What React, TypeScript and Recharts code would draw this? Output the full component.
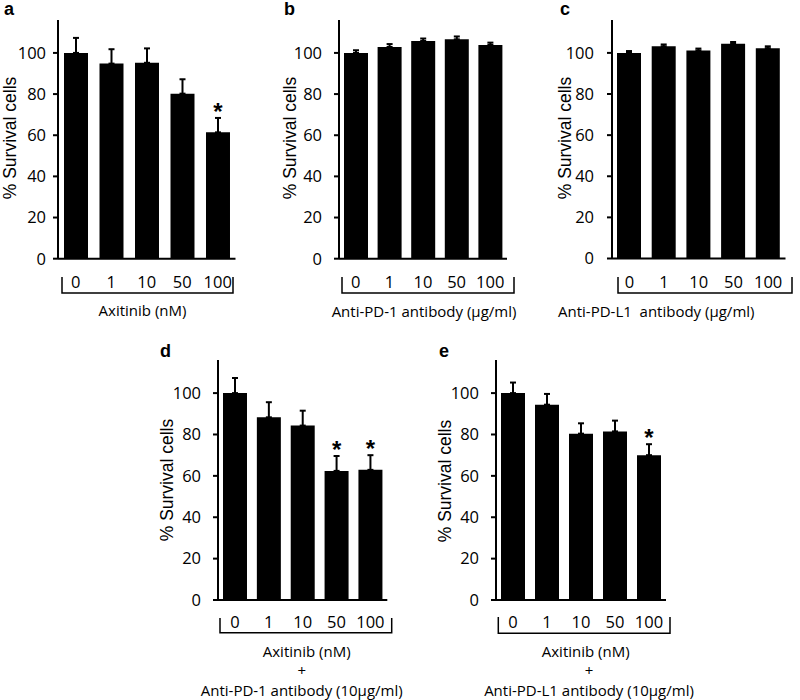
import React from "react";
import { BarChart, Bar, XAxis, YAxis, ErrorBar } from "recharts";

// categories and ticks
const doses = ["0", "1", "10", "50", "100"];
const yTicks = [0, 20, 40, 60, 80, 100];

// a: axitinib alone
const axitinibMean = [100, 94.8, 95.2, 80.2, 61.4];
const axitinibErr = [7.3, 7, 7, 7, 7];
const axitinibSig = [false, false, false, false, true];

// b: anti-PD-1 alone
const pd1Mean = [100, 102.9, 105.8, 106.6, 103.9];
const pd1Err = [1.3, 1.4, 1.2, 1.4, 1.1];
const pd1Sig = [false, false, false, false, false];

// c: anti-PD-L1 alone
const pdl1Mean = [100, 103.2, 101.2, 104.4, 102.3];
const pdl1Err = [0.9, 0.9, 0.9, 0.9, 0.9];
const pdl1Sig = [false, false, false, false, false];

// d: axitinib + anti-PD-1
const comboPd1Mean = [100, 88.3, 84.3, 62.4, 62.9];
const comboPd1Err = [7.3, 7.3, 7.2, 7.2, 7.1];
const comboPd1Sig = [false, false, false, true, true];

// e: axitinib + anti-PD-L1
const comboPdl1Mean = [100, 94.4, 80.4, 81.5, 70];
const comboPdl1Err = [5.1, 5.2, 5.0, 5.2, 5.3];
const comboPdl1Sig = [false, false, false, false, true];

const makeRows = (mean: number[], err: number[], sig: boolean[]) =>
  doses.map((d, i) => ({ dose: d, mean: mean[i], err: [0, err[i]], sig: sig[i] }));

const tickFont = { fill: "#000", fontSize: 16.5, fontFamily: "Open Sans" };
const axisStroke = { stroke: "#000", strokeWidth: 2 };

interface PanelProps {
  rows: any[];
  axisX: number;
  plotTop: number;
  plotW: number;
  plotH: number;
  yGap: number;
  xGap: number;
}

const Panel: React.FC<PanelProps> = ({ rows, axisX, plotTop, plotW, plotH, yGap, xGap }) => {
  const yW = 60;
  const mTop = 4;
  const mRight = 4;
  const xH = 44;

  const renderStar = (p: any) => {
    const row = rows[p.index];
    if (!row || !row.sig) return null;
    const scale = p.height / row.mean;
    const errTop = p.y - row.err[1] * scale;
    return (
      <text
        x={p.x + p.width / 2}
        y={errTop + 2}
        textAnchor="middle"
        fontSize={24}
        fontWeight="bold"
        fontFamily="Liberation Sans"
        fill="#000"
      >
        *
      </text>
    );
  };

  return (
    <div style={{ position: "absolute", left: axisX - yW, top: plotTop - mTop }}>
      <BarChart
        width={yW + plotW + mRight}
        height={mTop + plotH + xH}
        data={rows}
        margin={{ top: mTop, right: mRight, left: 0, bottom: 0 }}
        barSize={24}
      >
        <XAxis
          dataKey="dose"
          height={xH}
          interval={0}
          tickLine={false}
          tickSize={0}
          tickMargin={xGap}
          axisLine={axisStroke}
          tick={tickFont}
        />
        <YAxis
          type="number"
          width={yW}
          domain={[0, 116]}
          ticks={yTicks}
          tickSize={5}
          tickMargin={yGap}
          axisLine={axisStroke}
          tickLine={axisStroke}
          tick={tickFont}
        />
        <Bar dataKey="mean" fill="#000" isAnimationActive={false} label={renderStar}>
          <ErrorBar
            dataKey="err"
            direction="y"
            width={3}
            stroke="#000"
            strokeWidth={2}
            isAnimationActive={false}
          />
        </Bar>
      </BarChart>
    </div>
  );
};

const yLabel = (x: number, y: number) => (
  <text
    x={x}
    y={y}
    transform={`rotate(-90 ${x} ${y})`}
    textAnchor="middle"
    dominantBaseline="central"
    fontSize={17.5}
    fontFamily="Liberation Sans"
    fill="#000"
  >
    % Survival cells
  </text>
);

const letter = (x: number, y: number, s: string) => (
  <text x={x} y={y} fontSize={18} fontWeight="bold" fontFamily="Liberation Sans" fill="#000">
    {s}
  </text>
);

const bracket = (x1: number, x2: number, y1: number, y2: number) => (
  <path d={`M${x1},${y1} V${y2} H${x2} V${y1}`} fill="none" stroke="#000" strokeWidth={1.5} />
);

const title = (x: number, y: number, s: string, anchor: string = "middle") => (
  <text
    x={x}
    y={y}
    textAnchor={anchor as any}
    dominantBaseline="central"
    fontSize={15}
    fontFamily="Open Sans"
    fill="#000"
    style={{ whiteSpace: "pre" }}
  >
    {s}
  </text>
);

export default function App() {
  return (
    <div
      style={{
        position: "absolute",
        left: 0,
        top: 0,
        width: 800,
        height: 700,
        background: "#fff",
        overflow: "hidden",
      }}
    >
      <Panel rows={makeRows(axitinibMean, axitinibErr, axitinibSig)} axisX={57.5} plotTop={20} plotW={177.5} plotH={238.7} yGap={7} xGap={18} />
      <Panel rows={makeRows(pd1Mean, pd1Err, pd1Sig)} axisX={338.5} plotTop={20} plotW={168} plotH={238.7} yGap={12} xGap={18} />
      <Panel rows={makeRows(pdl1Mean, pdl1Err, pdl1Sig)} axisX={611.5} plotTop={20} plotW={173.5} plotH={238.5} yGap={13} xGap={18} />
      <Panel rows={makeRows(comboPd1Mean, comboPd1Err, comboPd1Sig)} axisX={217.7} plotTop={360} plotW={169.3} plotH={240} yGap={12} xGap={16} />
      <Panel rows={makeRows(comboPdl1Mean, comboPdl1Err, comboPdl1Sig)} axisX={496} plotTop={359.5} plotW={170} plotH={240} yGap={12} xGap={16} />

      <svg width={800} height={700} style={{ position: "absolute", left: 0, top: 0, pointerEvents: "none" }}>
        {letter(4, 15, "a")}
        {letter(284, 15, "b")}
        {letter(560, 15, "c")}
        {letter(160, 357, "d")}
        {letter(439, 357, "e")}

        {yLabel(10, 138)}
        {yLabel(290, 138)}
        {yLabel(565, 138)}
        {yLabel(167, 480)}
        {yLabel(445, 481)}

        {bracket(62, 233, 277, 293)}
        {bracket(342, 514, 277, 293)}
        {bracket(618, 792, 277, 293)}
        {bracket(220, 391.7, 618, 632.7)}
        {bracket(498.3, 670, 617, 633.3)}

        {title(142.5, 310, "Axitinib (nM)")}
        {title(424, 311, "Anti-PD-1 antibody (µg/ml)")}
        {title(558, 311, "Anti-PD-L1  antibody (µg/ml)", "start")}
        {title(306.7, 650.5, "Axitinib (nM)")}
        {title(301.7, 670, "+")}
        {title(301.7, 689.5, "Anti-PD-1 antibody (10µg/ml)")}
        {title(585.7, 650.5, "Axitinib (nM)")}
        {title(589, 670, "+")}
        {title(589, 689.5, "Anti-PD-L1 antibody (10µg/ml)")}
      </svg>
    </div>
  );
}
